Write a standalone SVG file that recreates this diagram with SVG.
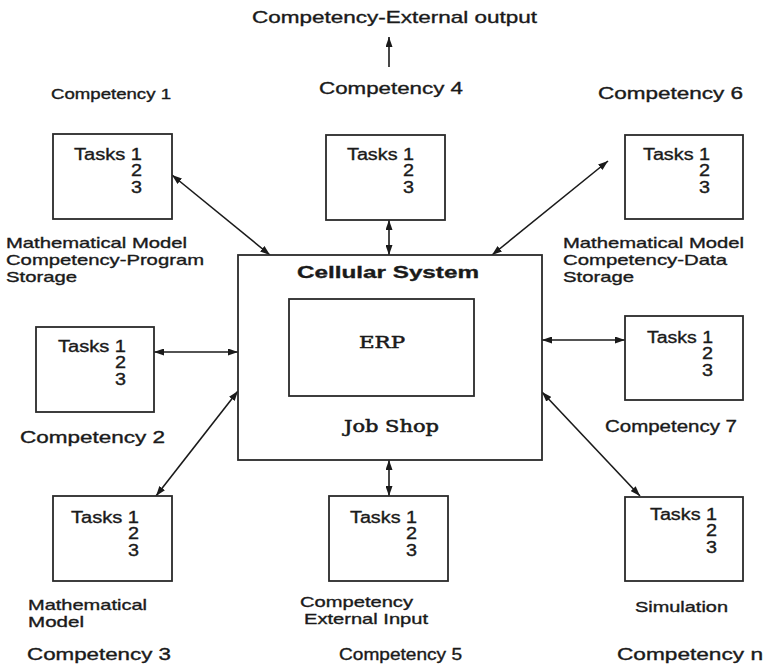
<svg xmlns="http://www.w3.org/2000/svg" width="765" height="666" viewBox="0 0 765 666">
  <style>
    .box { fill: #fff; stroke: #2a2a2a; stroke-width: 1.8; }
    .t { font-family: "Liberation Sans", Arial, sans-serif; fill: #1a1a1a; stroke: #1a1a1a; stroke-width: 0.35; }
    .task { font-size: 16px; }
    .lbl { font-size: 16px; }
    .sm { font-size: 15px; }
    .serif { font-family: "DejaVu Serif", "Liberation Serif", serif; fill: #1a1a1a; stroke: #1a1a1a; stroke-width: 0.5; font-size: 16px; }
    .link { stroke: #1a1a1a; stroke-width: 1.6; fill: none; marker-end: url(#head); marker-start: url(#head); }
  </style>
  <defs>
    <marker id="head" viewBox="0 0 10 7" refX="10" refY="3.5" markerWidth="10" markerHeight="7" markerUnits="userSpaceOnUse" orient="auto-start-reverse">
      <path d="M0,0 L10,3.5 L0,7 z" fill="#1a1a1a"/>
    </marker>
  </defs>
  <rect width="765" height="666" fill="#fff"/>

  <!-- connectors -->
  <g id="connectors">
    <line x1="389" y1="67" x2="389" y2="37" stroke="#1a1a1a" stroke-width="1.6" marker-end="url(#head)"/>
    <line class="link" x1="172" y1="175" x2="270" y2="255"/>
    <line class="link" x1="389" y1="220" x2="389" y2="255"/>
    <line class="link" x1="608" y1="161" x2="492" y2="255"/>
    <line class="link" x1="154" y1="352" x2="238" y2="352"/>
    <line class="link" x1="542" y1="340" x2="625" y2="340"/>
    <line class="link" x1="238" y1="391" x2="156" y2="496"/>
    <line class="link" x1="389" y1="460" x2="389" y2="496"/>
    <line class="link" x1="542" y1="392" x2="640" y2="496"/>
  </g>

  <!-- central system -->
  <g id="cellular-system">
    <rect class="box" x="238" y="255" width="304" height="205"/>
    <text class="t" x="297" y="278" font-size="17" font-weight="bold" textLength="182" lengthAdjust="spacingAndGlyphs">Cellular System</text>
    <text class="serif" x="344" y="432" textLength="95" lengthAdjust="spacingAndGlyphs">Job Shop</text>
  </g>
  <g id="erp">
    <rect class="box" x="289" y="299" width="185" height="97"/>
    <text class="serif" x="359" y="348" textLength="46" lengthAdjust="spacingAndGlyphs">ERP</text>
  </g>

  <!-- external output label -->
  <g id="external-output">
    <text class="t" x="252" y="23" font-size="17" textLength="285" lengthAdjust="spacingAndGlyphs">Competency-External output</text>
  </g>

  <!-- competency 1 -->
  <g id="competency-1">
    <text class="t" x="51" y="99" font-size="14" textLength="120" lengthAdjust="spacingAndGlyphs">Competency 1</text>
    <rect class="box" x="53" y="134" width="119" height="85"/>
    <text class="t task" x="74" y="160" textLength="68" lengthAdjust="spacingAndGlyphs">Tasks 1</text>
    <text class="t task" x="142" y="176" text-anchor="end" textLength="11" lengthAdjust="spacingAndGlyphs">2</text>
    <text class="t task" x="142" y="193" text-anchor="end" textLength="11" lengthAdjust="spacingAndGlyphs">3</text>
    <text class="t sm" x="6" y="248" textLength="181" lengthAdjust="spacingAndGlyphs">Mathematical Model</text>
    <text class="t sm" x="6" y="265" textLength="198" lengthAdjust="spacingAndGlyphs">Competency-Program</text>
    <text class="t sm" x="6" y="282" textLength="71" lengthAdjust="spacingAndGlyphs">Storage</text>
  </g>

  <!-- competency 4 -->
  <g id="competency-4">
    <text class="t" x="319" y="94" font-size="17" textLength="144" lengthAdjust="spacingAndGlyphs">Competency 4</text>
    <rect class="box" x="326" y="135" width="119" height="85"/>
    <text class="t task" x="347" y="160" textLength="67" lengthAdjust="spacingAndGlyphs">Tasks 1</text>
    <text class="t task" x="414" y="176" text-anchor="end" textLength="11" lengthAdjust="spacingAndGlyphs">2</text>
    <text class="t task" x="414" y="193" text-anchor="end" textLength="11" lengthAdjust="spacingAndGlyphs">3</text>
  </g>

  <!-- competency 6 -->
  <g id="competency-6">
    <text class="t" x="598" y="99" font-size="16" textLength="145" lengthAdjust="spacingAndGlyphs">Competency 6</text>
    <rect class="box" x="625" y="135" width="118" height="84"/>
    <text class="t task" x="643" y="160" textLength="67" lengthAdjust="spacingAndGlyphs">Tasks 1</text>
    <text class="t task" x="710" y="176" text-anchor="end" textLength="11" lengthAdjust="spacingAndGlyphs">2</text>
    <text class="t task" x="710" y="193" text-anchor="end" textLength="11" lengthAdjust="spacingAndGlyphs">3</text>
    <text class="t sm" x="563" y="248" textLength="181" lengthAdjust="spacingAndGlyphs">Mathematical Model</text>
    <text class="t sm" x="563" y="265" textLength="164" lengthAdjust="spacingAndGlyphs">Competency-Data</text>
    <text class="t sm" x="563" y="282" textLength="71" lengthAdjust="spacingAndGlyphs">Storage</text>
  </g>

  <!-- competency 2 -->
  <g id="competency-2">
    <rect class="box" x="36" y="327" width="118" height="85"/>
    <text class="t task" x="58" y="352" textLength="68" lengthAdjust="spacingAndGlyphs">Tasks 1</text>
    <text class="t task" x="126" y="368" text-anchor="end" textLength="11" lengthAdjust="spacingAndGlyphs">2</text>
    <text class="t task" x="126" y="385" text-anchor="end" textLength="11" lengthAdjust="spacingAndGlyphs">3</text>
    <text class="t lbl" x="20" y="443" textLength="145" lengthAdjust="spacingAndGlyphs">Competency 2</text>
  </g>

  <!-- competency 7 -->
  <g id="competency-7">
    <rect class="box" x="625" y="316" width="118" height="84"/>
    <text class="t task" x="647" y="343" textLength="66" lengthAdjust="spacingAndGlyphs">Tasks 1</text>
    <text class="t task" x="713" y="359" text-anchor="end" textLength="11" lengthAdjust="spacingAndGlyphs">2</text>
    <text class="t task" x="713" y="376" text-anchor="end" textLength="11" lengthAdjust="spacingAndGlyphs">3</text>
    <text class="t lbl" x="605" y="432" textLength="132" lengthAdjust="spacingAndGlyphs">Competency 7</text>
  </g>

  <!-- competency 3 -->
  <g id="competency-3">
    <rect class="box" x="53" y="496" width="119" height="85"/>
    <text class="t task" x="71" y="523" textLength="68" lengthAdjust="spacingAndGlyphs">Tasks 1</text>
    <text class="t task" x="139" y="539" text-anchor="end" textLength="11" lengthAdjust="spacingAndGlyphs">2</text>
    <text class="t task" x="139" y="556" text-anchor="end" textLength="11" lengthAdjust="spacingAndGlyphs">3</text>
    <text class="t sm" x="28" y="610" textLength="119" lengthAdjust="spacingAndGlyphs">Mathematical</text>
    <text class="t sm" x="28" y="627" textLength="56" lengthAdjust="spacingAndGlyphs">Model</text>
    <text class="t lbl" x="27" y="660" textLength="144" lengthAdjust="spacingAndGlyphs">Competency 3</text>
  </g>

  <!-- competency 5 -->
  <g id="competency-5">
    <rect class="box" x="329" y="496" width="119" height="85"/>
    <text class="t task" x="350" y="523" textLength="67" lengthAdjust="spacingAndGlyphs">Tasks 1</text>
    <text class="t task" x="417" y="539" text-anchor="end" textLength="11" lengthAdjust="spacingAndGlyphs">2</text>
    <text class="t task" x="417" y="556" text-anchor="end" textLength="11" lengthAdjust="spacingAndGlyphs">3</text>
    <text class="t sm" x="300" y="607" textLength="113" lengthAdjust="spacingAndGlyphs">Competency</text>
    <text class="t sm" x="304" y="624" textLength="124" lengthAdjust="spacingAndGlyphs">External Input</text>
    <text class="t lbl" x="339" y="660" textLength="123" lengthAdjust="spacingAndGlyphs">Competency 5</text>
  </g>

  <!-- competency n -->
  <g id="competency-n">
    <rect class="box" x="625" y="497" width="118" height="84"/>
    <text class="t task" x="650" y="520" textLength="67" lengthAdjust="spacingAndGlyphs">Tasks 1</text>
    <text class="t task" x="717" y="536" text-anchor="end" textLength="11" lengthAdjust="spacingAndGlyphs">2</text>
    <text class="t task" x="717" y="553" text-anchor="end" textLength="11" lengthAdjust="spacingAndGlyphs">3</text>
    <text class="t sm" x="635" y="612" textLength="93" lengthAdjust="spacingAndGlyphs">Simulation</text>
    <text class="t lbl" x="617" y="660" textLength="146" lengthAdjust="spacingAndGlyphs">Competency n</text>
  </g>
</svg>
